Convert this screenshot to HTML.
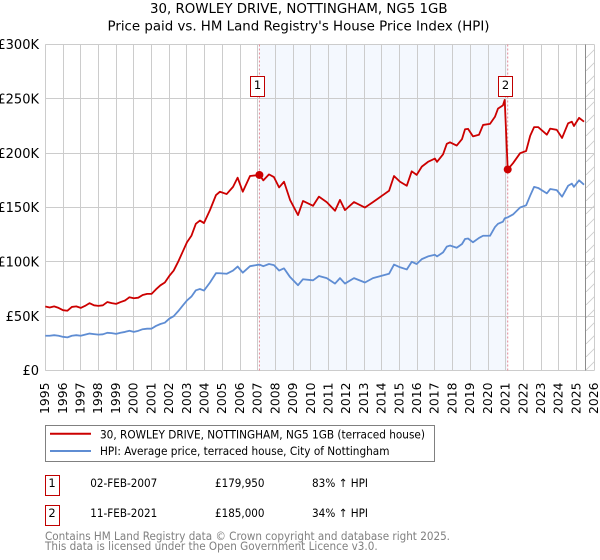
<!DOCTYPE html>
<html lang="en">
<head>
<meta charset="utf-8">
<title>30, Rowley Drive price chart</title>
<style>
html,body{margin:0;padding:0;background:#fff}
svg{display:block}
text{font-family:"DejaVu Sans","Liberation Sans",sans-serif;fill:#000}
</style>
</head>
<body>
<svg id="chart" width="600" height="560" viewBox="0 0 600 560" xmlns="http://www.w3.org/2000/svg">
  <defs>
    <pattern id="hatch" width="13" height="13" patternUnits="userSpaceOnUse" patternTransform="translate(586 45)">
      <path d="M0 13L13 0" stroke="#cccccc" stroke-width="0.8"/>
    </pattern>
  </defs>
  <text x="150" y="13" font-size="13.3" textLength="297.5" lengthAdjust="spacingAndGlyphs">30, ROWLEY DRIVE, NOTTINGHAM, NG5 1GB</text>
  <text x="107.5" y="30.7" font-size="13.3" textLength="382" lengthAdjust="spacingAndGlyphs">Price paid vs. HM Land Registry's House Price Index (HPI)</text>
  <g id="plot"></g>

  <g>
    <rect x="45.5" y="425.5" width="389" height="36" fill="#fff" stroke="#808080" stroke-width="1"/>
    <line x1="50" x2="91" y1="433.7" y2="433.7" stroke="#cc0000" stroke-width="2"/>
    <text x="100" y="438.3" font-size="11.5" textLength="325" lengthAdjust="spacingAndGlyphs">30, ROWLEY DRIVE, NOTTINGHAM, NG5 1GB (terraced house)</text>
    <line x1="50" x2="91" y1="451" y2="451" stroke="#5f8dd3" stroke-width="2"/>
    <text x="100" y="455" font-size="11.5" textLength="289.5" lengthAdjust="spacingAndGlyphs">HPI: Average price, terraced house, City of Nottingham</text>
  </g>

  <g>
    <rect x="45.5" y="475.5" width="14" height="20" fill="#fff" stroke="#c00000" stroke-width="1"/>
    <text x="52" y="487" font-size="11.5" text-anchor="middle">1</text>
    <text x="90.3" y="487" font-size="11.5" textLength="67" lengthAdjust="spacingAndGlyphs">02-FEB-2007</text>
    <text x="215" y="487" font-size="11.5" textLength="49.5" lengthAdjust="spacingAndGlyphs">£179,950</text>
    <text x="312" y="487" font-size="11.5" textLength="56" lengthAdjust="spacingAndGlyphs">83% ↑ HPI</text>
  </g>
  <g>
    <rect x="45.5" y="505.5" width="14" height="20" fill="#fff" stroke="#c00000" stroke-width="1"/>
    <text x="52" y="517" font-size="11.5" text-anchor="middle">2</text>
    <text x="90.3" y="517" font-size="11.5" textLength="67" lengthAdjust="spacingAndGlyphs">11-FEB-2021</text>
    <text x="215" y="517" font-size="11.5" textLength="49.5" lengthAdjust="spacingAndGlyphs">£185,000</text>
    <text x="312" y="517" font-size="11.5" textLength="56" lengthAdjust="spacingAndGlyphs">34% ↑ HPI</text>
  </g>
  <text x="45" y="540" font-size="11.6" textLength="405" lengthAdjust="spacingAndGlyphs" style="fill:#808080">Contains HM Land Registry data © Crown copyright and database right 2025.</text>
  <text x="45" y="550" font-size="11.6" textLength="332.7" lengthAdjust="spacingAndGlyphs" style="fill:#808080">This data is licensed under the Open Government Licence v3.0.</text>
</svg>
<script>
const yearTicks = [1995,1996,1997,1998,1999,2000,2001,2002,2003,2004,2005,2006,2007,2008,2009,2010,2011,2012,2013,2014,2015,2016,2017,2018,2019,2020,2021,2022,2023,2024,2025,2026];
const valueTicks = [0,50000,100000,150000,200000,250000,300000];
const valueTickLabels = ["£0","£50K","£100K","£150K","£200K","£250K","£300K"];
const dates = [1995,1995.25,1995.5,1995.75,1996,1996.25,1996.5,1996.75,1997,1997.25,1997.5,1997.75,1998,1998.25,1998.5,1998.75,1999,1999.25,1999.5,1999.75,2000,2000.25,2000.5,2000.75,2001,2001.25,2001.5,2001.75,2002,2002.25,2002.5,2002.75,2003,2003.25,2003.5,2003.73,2003.96,2004.3,2004.64,2004.86,2005.24,2005.6,2005.86,2006.15,2006.56,2007.09,2007.31,2007.63,2007.91,2008.2,2008.48,2008.82,2009.27,2009.55,2010.12,2010.45,2010.89,2011.36,2011.64,2011.92,2012.43,2013.05,2013.5,2014.41,2014.69,2015.03,2015.41,2015.69,2015.97,2016.26,2016.61,2017,2017.12,2017.46,2017.67,2017.85,2018.23,2018.53,2018.7,2018.87,2019.15,2019.49,2019.72,2020.11,2020.39,2020.56,2020.84,2020.94,2021.11,2021.41,2021.81,2022.15,2022.38,2022.6,2022.83,2023.32,2023.51,2023.88,2024.18,2024.52,2024.73,2024.85,2025.14,2025.42];
const pricePaid = [58.9,58,59,57.6,55.5,55,58.5,59,57.6,59.5,62,60,59.5,60,63,62,61.3,63,64.4,67.4,66.5,67,69.5,70.5,70.5,74.7,78.4,81,87,92,100,109,118,124,135,138,135.7,147.7,161.5,164.5,162.4,169,177.5,164.5,179,179.95,175,180.5,178,168.5,173.7,157,143,156,151.6,160,155,147,157,147.6,155,150,155,165.4,179,173.7,170,183.3,180,187.6,192,195,192,199,208.6,210,207,213,222,222.4,215.5,217,226,227,233.5,241,244,249,185,190.8,200,202,216,224,224,217,222.6,221.5,214,227.5,229,225,232.5,229];
const hpiValues = [32,32,32.5,32,31,30.5,32,32.5,32,33,34,33.5,33,33.3,34.7,34.4,33.7,34.7,35.5,36.6,35.5,36.5,38,38.5,38.5,41,42.8,44,47.7,50,54.5,59.5,64.5,68,73.8,75,73.6,81,89.6,89.5,89,92,95.7,90,96,97.5,96,98,97,92,94,86,78.5,84,83,87,85,80,85,80,85,81,85,89,97.5,95,93,100,98,102.5,105,106.5,105,108.7,114,115,113,116.4,121,121.5,118,122,124,124,132,135,137,140,141,143.6,150,152,161,169,168,163,167,166,160,170,172,169,175,171];
const saleDates = [2007.09,2021.11];
const salePrices = [179950,185000];
const saleLabels = ["1","2"];
const lastDataYear = 2025.49;

const NS = "http://www.w3.org/2000/svg";
const plot = document.getElementById("plot");
const x = yr => 45.3 + (yr - 1995) * 17.71;
const y = v => 370.5 - v / 50000 * 54.33;
const px = v => Math.round(v - 0.5) + 0.5;

function mk(tag, attrs) {
  const e = document.createElementNS(NS, tag);
  for (const k in attrs) e.setAttribute(k, attrs[k]);
  plot.appendChild(e);
  return e;
}
function linePath(xs, vs) {
  return xs.map((d, i) => (i ? "L" : "M") + x(d).toFixed(2) + " " + y(vs[i] * 1000).toFixed(2)).join("");
}

const shade = mk("rect", {x: x(saleDates[0]), y: y(300000), width: x(saleDates[1]) - x(saleDates[0]), height: y(0) - y(300000), fill: "#f4f8fe"});



yearTicks.forEach(t => {
  const g = mk("line", {x1: px(x(t)), x2: px(x(t)), y1: y(300000), y2: y(0), stroke: "#cccccc", "stroke-width": 1});
  
  
  const lx = x(t);
  const l = mk("text", {transform: "translate(" + (lx + 3.8) + " 414) rotate(-90)", "font-size": 12, textLength: 31.5, lengthAdjust: "spacingAndGlyphs"});
  l.textContent = t;
  
  
});
valueTicks.forEach((t, i) => {
  const g = mk("line", {x1: x(1995), x2: x(2026), y1: px(y(t)), y2: px(y(t)), stroke: "#cccccc", "stroke-width": 1});
  
  
  const l = mk("text", {x: 39, y: y(t) + 4.7, "font-size": 13, "text-anchor": "end"});
  l.textContent = valueTickLabels[i];
  
  
});

const hatch = mk("rect", {x: x(lastDataYear), y: y(300000), width: x(2026) - x(lastDataYear), height: y(0) - y(300000), fill: "url(#hatch)"});


const hatchEdge = mk("line", {x1: px(x(lastDataYear)), x2: px(x(lastDataYear)), y1: y(300000), y2: y(0), stroke: "#8c8c8c", "stroke-width": 1});



saleDates.forEach(d => {
  const v = mk("line", {x1: x(d), x2: x(d), y1: y(300000), y2: y(0), stroke: "#e58a96", "stroke-width": 1, "stroke-dasharray": "2 2"});
  
  
});

const hpiLine = mk("path", {d: linePath(dates, hpiValues), fill: "none", stroke: "#5f8dd3", "stroke-width": 1.8, "stroke-linejoin": "round"});


const paidLine = mk("path", {d: linePath(dates, pricePaid), fill: "none", stroke: "#cc0000", "stroke-width": 1.8, "stroke-linejoin": "round"});



saleDates.forEach((d, i) => {
  const c = mk("circle", {cx: x(d), cy: y(salePrices[i]), r: 4, fill: "#cc0000"});
  
  
  const b = mk("rect", {x: px(x(d)) - 9, y: 76.5, width: 14, height: 20, fill: "#fff", stroke: "#c00000", "stroke-width": 1});
  
  
  const t = mk("text", {x: px(x(d)) - 2, y: 89, "font-size": 11.5, "text-anchor": "middle"});
  t.textContent = saleLabels[i];
  
  
});
</script>
</body>
</html>
